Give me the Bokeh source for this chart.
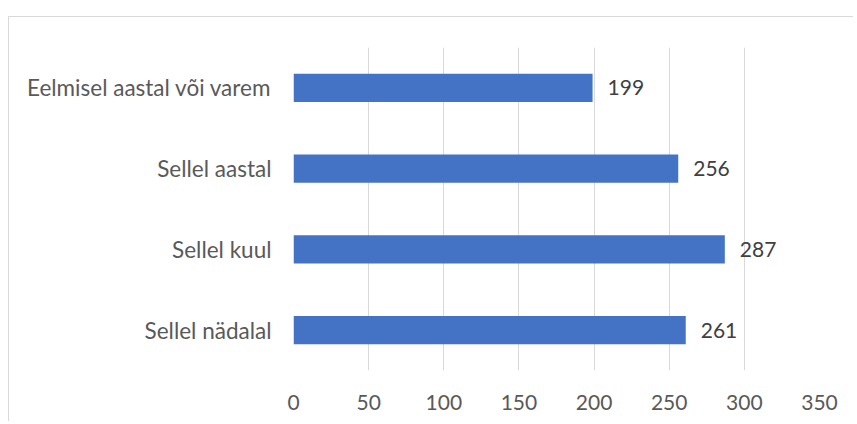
from bokeh.plotting import figure
from bokeh.models import Range1d, FactorRange, ColumnDataSource, FixedTicker
from bokeh.core.properties import value
from bokeh.embed import file_html
from bokeh.resources import INLINE

categories = ["Sellel nädalal", "Sellel kuul", "Sellel aastal", "Eelmisel aastal või varem"]
counts = [261, 287, 256, 199]
x_ticks = [0, 50, 100, 150, 200, 250, 300, 350]

FONT = "Lato"

src = ColumnDataSource(dict(cat=categories, val=counts, lbl=[str(v) for v in counts]))

p = figure(width=845, height=405, output_backend="svg", toolbar_location=None,
           y_range=FactorRange(factors=categories, range_padding=0),
           x_range=Range1d(0, 350),
           min_border_left=284, min_border_top=30, min_border_bottom=52, min_border_right=35)
p.styles = {"margin-top": "16px", "margin-left": "8px",
            "border-top": "1px solid #d9d9d9", "border-left": "1px solid #d9d9d9"}

p.hbar(y="cat", right="val", left=0, height=0.35, source=src, color="#4472C4", line_color=None)
p.text(x="val", y="cat", text="lbl", source=src, x_offset=15, text_baseline="middle",
       text_align="left", text_font=value(FONT), text_font_size="21px", text_color="#404040")

p.outline_line_color = None
p.ygrid.grid_line_color = None
p.xgrid.grid_line_color = "#d9d9d9"
p.xgrid.grid_line_width = 1
p.xaxis.ticker = FixedTicker(ticks=x_ticks)

for ax in (p.xaxis[0], p.yaxis[0]):
    ax.axis_line_color = None
    ax.major_tick_line_color = None
    ax.minor_tick_line_color = None
    ax.major_label_text_font = FONT
    ax.major_label_text_color = "#595959"
p.yaxis.major_label_text_font_size = "22.5px"
p.xaxis.major_label_text_font_size = "21px"
p.yaxis.major_label_standoff = 16
p.xaxis.major_label_standoff = 18

open("out.html", "w").write(file_html(p, INLINE))
